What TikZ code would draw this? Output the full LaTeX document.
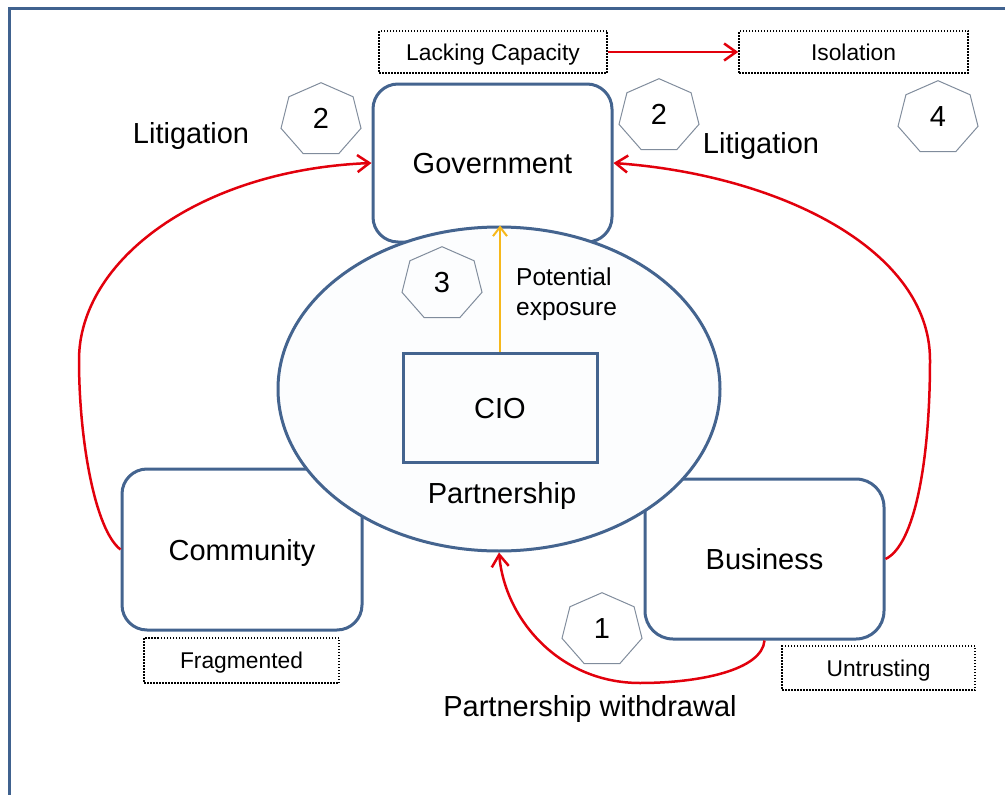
\documentclass[tikz,border=0pt]{standalone}
\usepackage{fontspec}
\setmainfont{Liberation Sans}
\usetikzlibrary{shapes.geometric,arrows.meta}
\definecolor{steel}{RGB}{68,100,143}
\definecolor{framec}{RGB}{64,98,143}
\definecolor{redc}{RGB}{226,0,12}
\definecolor{yellc}{RGB}{246,184,28}
\definecolor{heptc}{RGB}{128,140,156}
\definecolor{ellfill}{RGB}{252,253,254}
\newcommand\heptag[4]{%
  \draw[heptline,shift={(#1,#2)},xscale=1.1] (270:37.3) \foreach \k in {1,...,6}{ -- ({270+\k*360/7}:37.3)} -- cycle;
  \node[numtext,yshift=2.5pt] (#4) at (#1,#2) {#3};}
\begin{document}
\begin{tikzpicture}[x=1pt,y=-1pt,
  every node/.style={font=\fontsize{29}{34}\selectfont, inner sep=0pt},
  bigbox/.style={draw=steel, line width=3pt, rounded corners=25pt, fill=white, text height=21pt, text depth=0pt},
  dotbox/.style={draw=black, line width=1.5pt, dash pattern=on 1.5pt off 1.5pt, font=\fontsize{22.8}{27}\selectfont, text height=16.5pt, text depth=0pt},
  redarr/.style={draw=redc, line width=2.5pt, -{Straight Barb[length=12pt,width=17pt]}},
  yellarr/.style={draw=yellc, line width=2pt, -{Straight Barb[length=9pt,width=14pt]}},
  heptline/.style={draw=heptc, line width=1pt},
  numtext/.style={text height=21pt, text depth=0pt},
  smalltext/.style={font=\fontsize{24.5}{30}\selectfont},
]
\useasboundingbox (0,0) rectangle (1005,795);
\draw[framec, line width=3pt] (9,8) rectangle (1030,820);

% main boxes
\node[bigbox, minimum width=239pt, minimum height=158pt] (gov) at (492.5,163) {Government};
\node[bigbox, minimum width=240pt, minimum height=161pt] (comm) at (242,549.5) {Community};
\node[bigbox, minimum width=239pt, minimum height=160pt, rounded corners=28pt] (bus) at (764.5,559) {Business};

% partnership ellipse
\node[ellipse, draw=steel, line width=3pt, fill=ellfill, minimum width=442pt, minimum height=324pt] (part) at (499,389) {};
\node[draw=steel, line width=3pt, minimum width=194pt, minimum height=109pt, text height=21pt, text depth=0pt] (cio) at (500,408) {CIO};
\node[anchor=base] (partlab) at (502,503) {Partnership};
\draw[yellarr] (cio.north) -- (cio.north |- part.north);
\node[smalltext, anchor=base west] (pot) at (516,285) {Potential};
\node[smalltext, anchor=base west] (expo) at (516,315) {exposure};

% dotted boxes
\node[dotbox, minimum width=228pt, minimum height=42pt] (lack) at (493,52) {Lacking Capacity};
\node[dotbox, minimum width=229pt, minimum height=42pt] (iso) at (853.5,52) {Isolation};
\node[dotbox, minimum width=195pt, minimum height=45pt] (frag) at (241.5,660.5) {Fragmented};
\node[dotbox, minimum width=193pt, minimum height=44pt] (untr) at (878.5,668) {Untrusting};
\draw[redarr] (lack.east) -- (iso.west);

% red connectors
\draw[redarr] (comm.west) .. controls (95,530) and (79,440) .. (79,360) .. controls (79,260) and (200,170) .. (gov.west);
\draw[redarr] (bus.east) .. controls (915,545) and (930,460) .. (930,360) .. controls (930,250) and (780,175) .. (gov.east);
\draw[redarr] (bus.south) .. controls (762,670) and (700,683) .. (640,683) .. controls (560,683) and (505,620) .. (part.south);

% labels
\node[anchor=base] (lit1) at (191,143) {Litigation};
\node[anchor=base] (lit2) at (761,153) {Litigation};
\node[anchor=base] (pw) at (590,716) {Partnership withdrawal};

% heptagons
\heptag{321}{120}{2}{h2a}
\heptag{659}{116}{2}{h2b}
\heptag{938}{118}{4}{h4}
\heptag{442}{284}{3}{h3}
\heptag{602}{630}{1}{h1}
\end{tikzpicture}
\end{document}
